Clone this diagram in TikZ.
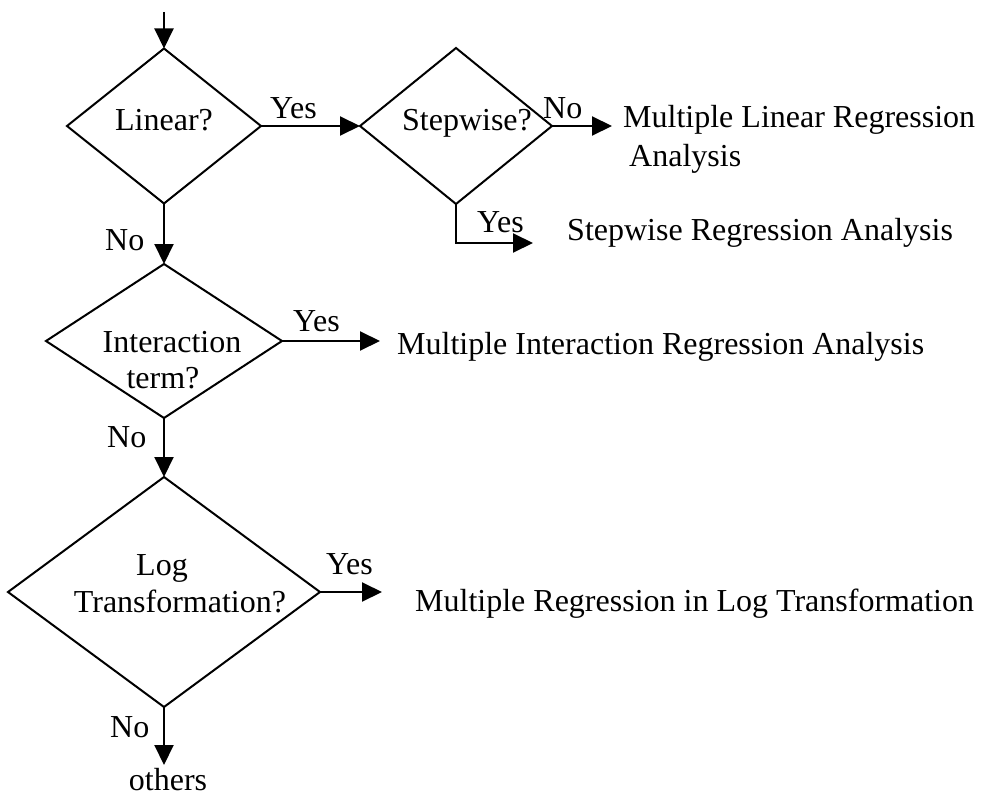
\documentclass[tikz,border=0pt]{standalone}
\usepackage{fontspec}
\setmainfont{Liberation Serif}
\usetikzlibrary{shapes.geometric,arrows.meta}

\begin{document}
\begin{tikzpicture}[x=1pt,y=-1pt,
  decision/.style={draw, shape=diamond, line width=2pt, inner sep=0pt, outer sep=0pt},
  flow/.style={line width=2pt, -{Triangle[length=20pt,width=19pt]}},
  txt/.style={font=\fontsize{32}{38}\selectfont, inner sep=0pt, anchor=base west},
  ctxt/.style={txt, anchor=base},
]
\useasboundingbox (0,0) rectangle (992,797);

% decision diamonds
\node[decision, minimum width=194pt, minimum height=155pt] (lin)  at (164,126) {};
\node[decision, minimum width=192pt, minimum height=156pt] (step) at (456,126) {};
\node[decision, minimum width=236pt, minimum height=154pt] (int)  at (164,341) {};
\node[decision, minimum width=312pt, minimum height=230pt] (log)  at (164,592) {};

% questions inside the diamonds
\node[ctxt] (linq)   at (164,131) {Linear?};
\node[ctxt] (stepq)  at (467,130) {Stepwise?};
\node[ctxt] (intq1)  at (172,352) {Interaction};
\node[ctxt] (intq2)  at (163,388) {term?};
\node[ctxt] (logq1)  at (162,575) {Log};
\node[ctxt] (logq2)  at (180,612) {Transformation?};

% outcomes
\node[txt] (mlr1) at (623,128) {Multiple Linear Regression};
\node[txt] (mlr2) at (629,166) {Analysis};
\node[txt] (swr)  at (567,240) {Stepwise Regression Analysis};
\node[txt] (mir)  at (397,354) {Multiple Interaction Regression Analysis};
\node[txt] (mrl)  at (415,611) {Multiple Regression in Log Transformation};
\node[ctxt] (oth) at (168,790) {others};

% branch labels
\node[txt] (y1) at (270,118) {Yes};
\node[txt] (n1) at (543,118) {No};
\node[txt] (y2) at (477,232) {Yes};
\node[txt] (n2) at (105,250) {No};
\node[txt] (y3) at (293,331) {Yes};
\node[txt] (n3) at (107,447) {No};
\node[txt] (y4) at (326,574) {Yes};
\node[txt] (n4) at (110,737) {No};

% free ends of the connectors
\coordinate (start) at (164,12);
\coordinate (emlr)  at (612,126);
\coordinate (eswr)  at (533,243);
\coordinate (emir)  at (380,341);
\coordinate (emrl)  at (382,592);
\coordinate (eoth)  at (164,765);

% connectors
\draw[flow] (start) -- (lin.north);
\draw[flow] (lin.east) -- (step.west);
\draw[flow] (step.east) -- (emlr);
\draw[flow] (step.south) |- (eswr);
\draw[flow] (lin.south) -- (int.north);
\draw[flow] (int.east) -- (emir);
\draw[flow] (int.south) -- (log.north);
\draw[flow] (log.east) -- (emrl);
\draw[flow] (log.south) -- (eoth);
\end{tikzpicture}
\end{document}
